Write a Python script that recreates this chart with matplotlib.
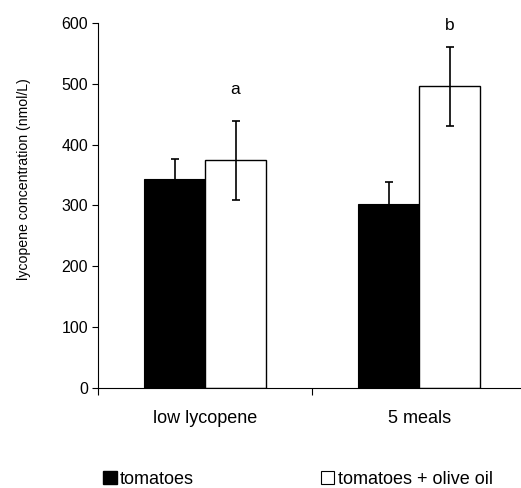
import numpy as np
import matplotlib
matplotlib.use("Agg")
import matplotlib.pyplot as plt
from matplotlib.patches import Patch

# data
groups = ["low lycopene", "5 meals"]
tomatoes = [343, 303]
tomatoes_err = [34, 35]
olive_oil = [374, 496]
olive_oil_err = [65, 65]
letters = ["a", "b"]
letter_y = [491, 595]

plt.rcParams['font.family'] = ['Liberation Sans', 'DejaVu Sans']

fig = plt.figure(figsize=(5.21, 4.88), dpi=100)
ax = fig.add_axes([0.188, 0.205, 0.8225, 0.748])

x = np.arange(len(groups))
w = 0.285
ebar = dict(ecolor="black", elinewidth=1.2, capsize=3, capthick=1.2)
ax.bar(x - w / 2, tomatoes, w, color="black", edgecolor="black", linewidth=0.8,
       yerr=tomatoes_err, error_kw=ebar, label="tomatoes")
ax.bar(x + w / 2, olive_oil, w, color="white", edgecolor="black", linewidth=1.0,
       yerr=olive_oil_err, error_kw=ebar, label="tomatoes + olive oil")
for xi, s, yy in zip(x, letters, letter_y):
    ax.text(xi + w / 2, yy, s, ha="center", va="center", fontsize=12.5)

ax.set_xlim(-0.5, 1.5)
ax.set_ylim(0, 600)
ax.set_yticks(np.arange(0, 601, 100))
ax.set_xticks([-0.5, 0.5, 1.5])
ax.set_xticklabels([])
ax.set_xticks(x, minor=True)
ax.set_xticklabels(groups, minor=True, fontsize=13)
ax.tick_params(axis="x", which="minor", length=0, pad=16)
ax.tick_params(axis="x", which="major", length=5, width=0.8, direction="out")
ax.tick_params(axis="y", length=4, width=0.8, labelsize=11.5, pad=3)
for side in ["top", "right"]:
    ax.spines[side].set_visible(False)
ax.spines["left"].set_linewidth(0.8)
ax.spines["bottom"].set_linewidth(0.8)
fig.text(24 / 521, 1 - 179 / 488, "lycopene concentration (nmol/L)", rotation=90,
         ha="center", va="center", fontsize=10.2)

handles = [Patch(facecolor="black", edgecolor="black"),
           Patch(facecolor="white", edgecolor="black", linewidth=0.8)]
fig.legend(handles, ["tomatoes", "tomatoes + olive oil"], ncol=2, frameon=False,
           loc="lower left", bbox_to_anchor=(103 / 521, 0.0), fontsize=13,
           borderpad=0, borderaxespad=0,
           handlelength=0.75, handleheight=0.75, handletextpad=0.2, columnspacing=7.0)

fig.savefig("out.png", dpi=100)
